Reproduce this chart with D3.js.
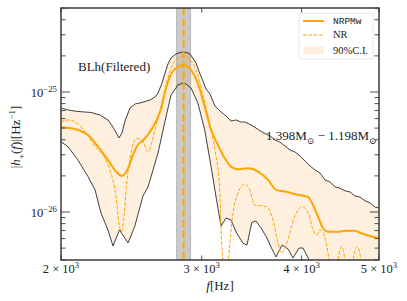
<!DOCTYPE html>
<html>
<head>
<meta charset="utf-8">
<script src="https://cdn.jsdelivr.net/npm/d3@7"></script>
<style>
  body { margin: 0; background: #fff; }
</style>
</head>
<body>
<div id="chart"></div>
<script>
// amplitudes |h+(f)| in units of 1e-26 Hz^-1, pairs are [f (Hz), amplitude]
const ciUpper = [[2000,7.36],[2041,7.08],[2100,6.88],[2181,6.75],[2238,6.43],[2290,5.85],[2323,5.11],[2364,4.14],[2384,4.55],[2405,5.73],[2440,7.36],[2475,7.94],[2511,8.10],[2548,8.33],[2585,8.58],[2622,9.08],[2645,9.81],[2676,11.89],[2699,14.40],[2722,17.11],[2746,19.20],[2786,20.73],[2818,21.3],[2851,21.54],[2884,21.1],[2901,20.73],[2951,17.44],[2985,14.13],[3011,12.35],[3037,10.59],[3073,9.62],[3117,7.64],[3162,6.95],[3218,6.31],[3264,5.73],[3312,5.85],[3360,5.62],[3399,5.62],[3458,5.31],[3508,5.01],[3559,4.69],[3611,4.47],[3653,4.30],[3706,3.98],[3759,3.83],[3814,3.55],[3869,3.29],[3926,3.16],[3983,2.93],[4040,2.66],[4099,2.42],[4158,2.24],[4219,2.11],[4280,1.85],[4342,1.78],[4405,1.62],[4469,1.58],[4534,1.50],[4600,1.47],[4666,1.36],[4734,1.33],[4803,1.24],[4873,1.19],[4943,1.10],[5000,1.08]];

const ciLower = [[2000,3.85],[2041,3.50],[2100,2.71],[2162,1.97],[2206,1.53],[2244,0.981],[2290,0.708],[2323,0.521],[2367,0.708],[2426,0.552],[2473,0.754],[2509,1.08],[2533,1.36],[2570,1.62],[2607,2.24],[2645,3.10],[2696,5.52],[2746,9.44],[2802,11.44],[2851,11.95],[2909,10.80],[2967,8.10],[3026,4.83],[3082,2.39],[3131,1.26],[3172,0.764],[3218,0.891],[3264,0.858],[3312,0.681],[3379,0.548],[3418,0.531],[3466,0.82],[3508,0.841],[3559,0.736],[3621,0.607],[3663,0.511],[3716,0.422],[3781,0.531],[3847,0.492],[3903,0.414],[3971,0.501],[4017,0.501],[4076,0.414],[4123,0.341],[4300,0.30],[4600,0.28],[5000,0.27]];

const nrpmw = [[2000,5.08],[2100,4.83],[2162,4.38],[2225,3.50],[2290,2.71],[2344,2.17],[2384,2.00],[2426,2.31],[2461,2.99],[2490,3.55],[2536,3.98],[2585,4.67],[2635,5.85],[2673,7.54],[2699,9.98],[2746,14.1],[2802,16.25],[2851,16.79],[2909,15.26],[2967,11.82],[3026,7.54],[3082,4.83],[3144,3.62],[3206,2.80],[3264,2.39],[3331,2.27],[3428,2.31],[3529,2.17],[3632,1.85],[3716,1.53],[3814,1.48],[3960,1.39],[4076,1.33],[4135,1.14],[4195,0.914],[4256,0.732],[4317,0.685],[4444,0.685],[4534,0.699],[4666,0.699],[4748,0.665],[4873,0.631],[5000,0.604]];

const nr = [[2000,5.65],[2041,5.85],[2082,5.65],[2143,4.67],[2206,3.50],[2270,2.80],[2310,2.11],[2344,1.34],[2367,0.754],[2380,0.685],[2398,0.914],[2419,1.85],[2440,2.71],[2463,3.74],[2488,4.11],[2524,3.98],[2572,3.18],[2609,4.24],[2647,6.23],[2673,8.05],[2707,11.44],[2754,16.47],[2802,19.20],[2851,19.95],[2901,18.48],[2951,15.26],[3011,9.44],[3073,5.31],[3117,3.29],[3160,1.53],[3172,0.708],[3190,0.362],[3208,0.15],[3241,0.398],[3283,0.981],[3331,1.44],[3394,1.71],[3445,1.53],[3495,1.14],[3549,1.13],[3621,1.10],[3684,0.858],[3738,0.552],[3776,0.453],[3833,0.548],[3907,0.858],[3960,1.04],[4006,1.11],[4079,0.975],[4135,0.708],[4179,0.643],[4219,0.708],[4259,0.665],[4305,0.511],[4355,0.299],[4393,0.2],[4444,0.398],[4489,0.514],[4534,0.398],[4587,0.2],[4640,0.398],[4694,0.514],[4748,0.398],[4803,0.2],[5000,0.15]];

const mergerBand = [2790, 2905];
const peakFreq = 2848;
const xTicks = [2000, 3000, 4000, 5000];
const xTickMantissa = ["2", "3", "4", "5"];
const legendLabels = ["NRPMw", "NR", "90%C.I."];

const W = 407, H = 301;
const unit = 1e-26;
const orange = "#ffa500";
const ciFill = "#feefdf";
const serif = "'Liberation Serif', 'Times New Roman', 'DejaVu Serif', serif";

const svg = d3.select("#chart").append("svg")
    .attr("width", W).attr("height", H)
    .attr("font-family", serif);

const x = d3.scaleLog().domain([2000, 5000]).range([61, 379]);
const y = d3.scaleLog().domain([Math.pow(10, -26.4), Math.pow(10, -24.3)]).range([260, 8]);

svg.append("clipPath").attr("id", "plotclip")
  .append("rect").attr("x", 61).attr("y", 8).attr("width", 318).attr("height", 252);

const plot = svg.append("g").attr("clip-path", "url(#plotclip)");

const line = d3.line().x(d => x(d[0])).y(d => y(d[1] * unit));
const smooth = d3.line().x(d => x(d[0])).y(d => y(d[1] * unit)).curve(d3.curveMonotoneX);

// 90% C.I. band
const ciPts = ciUpper.concat(ciLower.slice().reverse());
plot.append("path").attr("d", line(ciPts) + "Z").attr("fill", ciFill);

// merger time band
plot.append("rect")
    .attr("x", x(mergerBand[0])).attr("y", 8)
    .attr("width", x(mergerBand[1]) - x(mergerBand[0])).attr("height", 252)
    .attr("fill", "#808080").attr("fill-opacity", 0.42)
    .attr("stroke", "#808080").attr("stroke-opacity", 0.4);

plot.append("path").attr("d", line(ciUpper)).attr("fill", "none")
    .attr("stroke", "#111").attr("stroke-width", 0.8);
plot.append("path").attr("d", line(ciLower)).attr("fill", "none")
    .attr("stroke", "#111").attr("stroke-width", 0.8);

plot.append("path").attr("d", smooth(nr)).attr("fill", "none")
    .attr("stroke", orange).attr("stroke-width", 1).attr("stroke-dasharray", "3.7,1.6");
plot.append("path").attr("d", smooth(nrpmw)).attr("fill", "none")
    .attr("stroke", orange).attr("stroke-width", 2);

plot.append("line")
    .attr("x1", x(peakFreq)).attr("x2", x(peakFreq)).attr("y1", 8).attr("y2", 260)
    .attr("stroke", orange).attr("stroke-width", 2).attr("stroke-dasharray", "7.4,3.2");

// frame
svg.append("rect").attr("x", 61).attr("y", 8).attr("width", 318).attr("height", 252)
    .attr("fill", "none").attr("stroke", "#3a3a3a").attr("stroke-width", 1.5);

// ticks
const yTicks = y.ticks();
const isMajor = v => Math.abs(Math.log10(v) - Math.round(Math.log10(v))) < 1e-6;
const tickG = svg.append("g").attr("stroke", "#3a3a3a").attr("stroke-width", 0.9);
yTicks.forEach(v => {
  const len = isMajor(v) ? 9 : 4.5;
  const yy = y(v);
  tickG.append("line").attr("x1", 61).attr("x2", 61 + len).attr("y1", yy).attr("y2", yy);
  tickG.append("line").attr("x1", 379).attr("x2", 379 - len).attr("y1", yy).attr("y2", yy);
});
xTicks.forEach(v => {
  const xx = x(v);
  tickG.append("line").attr("x1", xx).attr("x2", xx).attr("y1", 260).attr("y2", 255.5);
  tickG.append("line").attr("x1", xx).attr("x2", xx).attr("y1", 8).attr("y2", 12.5);
});

function rich(textSel, parts, size) {
  let shift = 0;
  parts.forEach(([t, kind]) => {
    const target = kind === "sup" ? -0.42 * size : kind === "sub" ? 0.28 * size : 0;
    const ts = textSel.append("tspan").text(t).attr("dy", target - shift);
    shift = target;
    if (kind === "sup" || kind === "sub") ts.attr("font-size", 0.7 * size);
    if (kind === "it") ts.attr("font-style", "italic");
  });
}

function label(x0, y0, size) {
  return svg.append("text").attr("x", x0).attr("y", y0)
      .attr("font-size", size).attr("font-family", serif).attr("fill", "#222");
}

// y tick labels
yTicks.filter(isMajor).forEach(v => {
  const t = label(57, y(v) + 5, 12.5).attr("text-anchor", "end");
  rich(t, [["10", ""], ["\u2212" + Math.abs(Math.round(Math.log10(v))), "sup"]], 12.5);
});

// x tick labels
xTicks.forEach((v, i) => {
  const t = label(x(v), 273, 12.5).attr("text-anchor", "middle");
  rich(t, [[xTickMantissa[i] + " \u00d7 10", ""], ["3", "sup"]], 12.5);
});

// axis labels
const xl = label(220, 290, 13).attr("text-anchor", "middle");
rich(xl, [["f", "it"], ["[Hz]", ""]], 13);

const yl = label(0, 0, 13).attr("transform", "translate(20,137) rotate(-90)")
    .attr("text-anchor", "middle");
rich(yl, [["|", ""], ["h", "it"], ["+", "sub"], ["(", ""], ["f", "it"], [")|[Hz", ""], ["\u22121", "sup"], ["]", ""]], 13);

// annotations
label(78, 71, 13).text("BLh(Filtered)");
const mt = label(266, 140, 13);
rich(mt, [["1.398M", ""], ["\u2299", "sub"], [" \u2212 1.198M", ""], ["\u2299", "sub"]], 13);

// legend
const lg = svg.append("g");
lg.append("rect").attr("x", 299).attr("y", 13).attr("width", 74).attr("height", 46)
    .attr("rx", 2).attr("fill", "#fff").attr("fill-opacity", 0.85)
    .attr("stroke", "#e2e2e2").attr("stroke-width", 0.8);
lg.append("line").attr("x1", 303).attr("x2", 324).attr("y1", 21).attr("y2", 21)
    .attr("stroke", orange).attr("stroke-width", 2);
lg.append("line").attr("x1", 303).attr("x2", 324).attr("y1", 35).attr("y2", 35)
    .attr("stroke", orange).attr("stroke-width", 1).attr("stroke-dasharray", "3.7,1.6");
lg.append("rect").attr("x", 303).attr("y", 46.5).attr("width", 21).attr("height", 7.5)
    .attr("fill", ciFill);
label(333, 24, 9.5).attr("font-family", "'Liberation Mono', 'DejaVu Sans Mono', monospace")
    .text(legendLabels[0]);
label(333, 38, 10.5).text(legendLabels[1]);
label(333, 54, 10.5).text(legendLabels[2]);
</script>
</body>
</html>
